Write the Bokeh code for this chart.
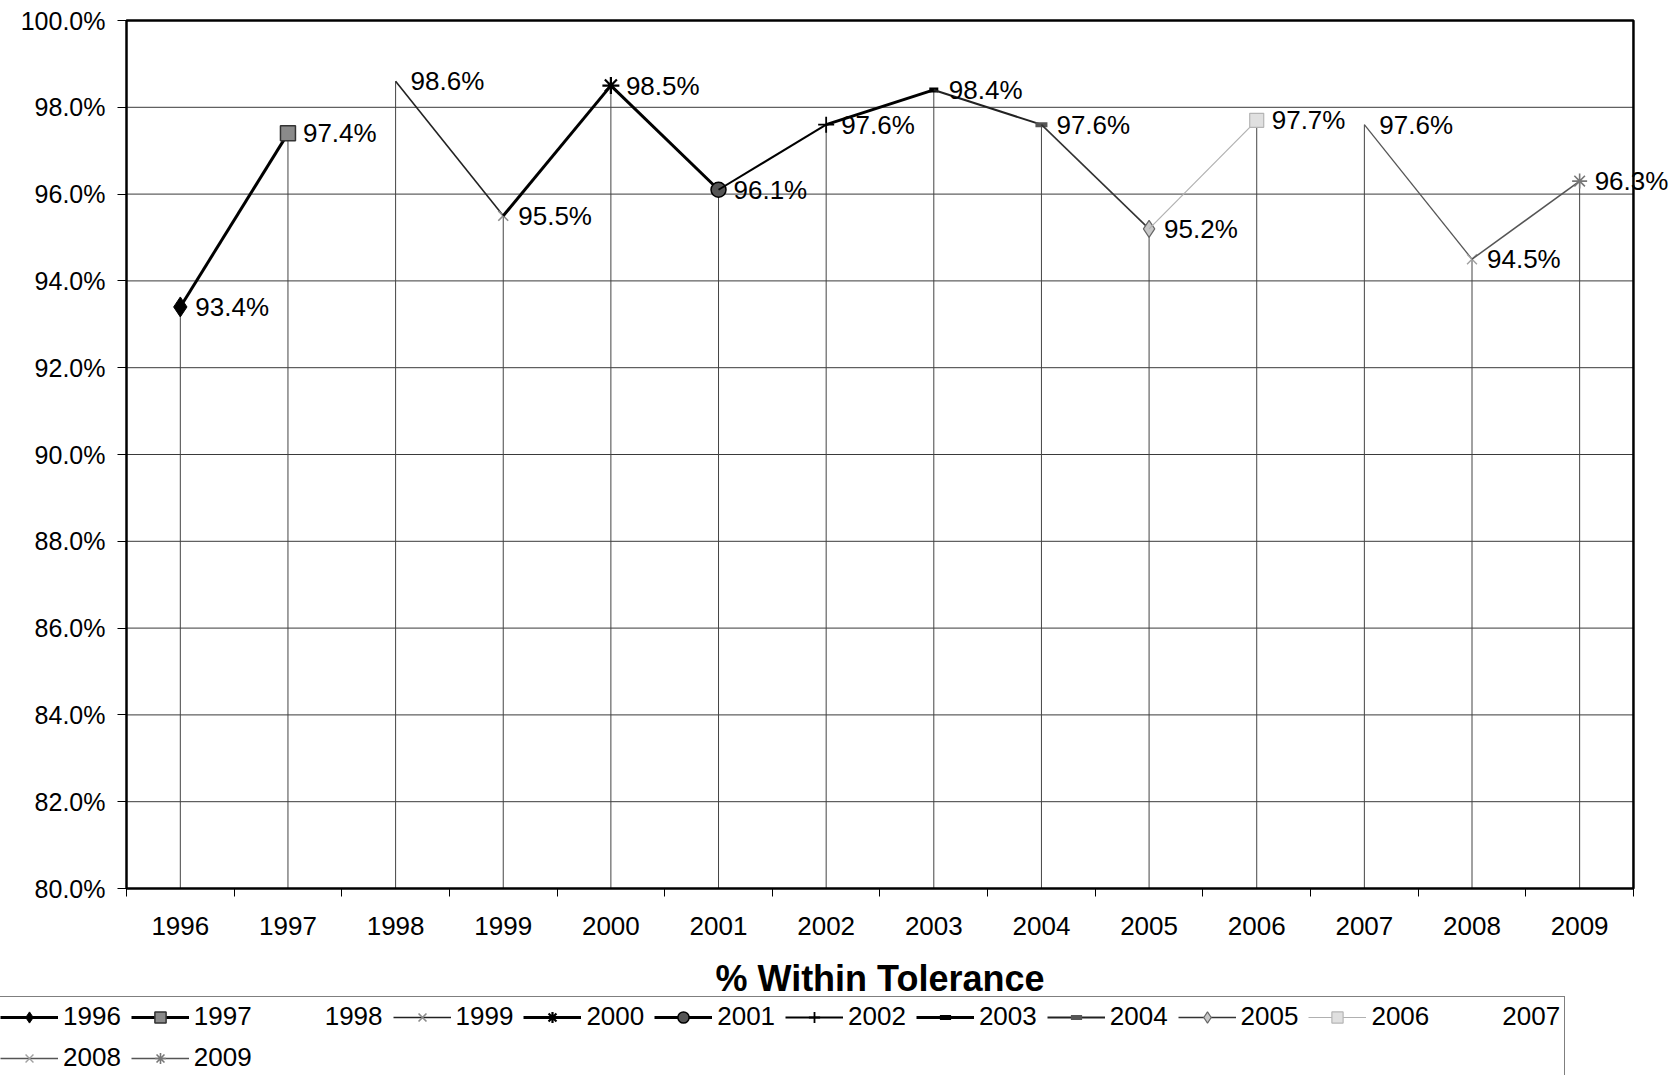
from bokeh.plotting import figure
from bokeh.models import (ColumnDataSource, FixedTicker, PrintfTickFormatter, Range1d,
                          Legend, LegendItem, LabelSet)
from bokeh.core.properties import value
from bokeh.embed import file_html
from bokeh.resources import INLINE

# ---------------- data ----------------
years = ["1996", "1997", "1998", "1999", "2000", "2001", "2002",
         "2003", "2004", "2005", "2006", "2007", "2008", "2009"]
within_tolerance = [93.4, 97.4, 98.6, 95.5, 98.5, 96.1, 97.6,
                    98.4, 97.6, 95.2, 97.7, 97.6, 94.5, 96.3]
y_ticks = [80, 82, 84, 86, 88, 90, 92, 94, 96, 98, 100]
axis_title = "% Within Tolerance"

# ---------------- styles (per series) ----------------
FONT = "Liberation Sans"
styles = {
    "1996": dict(lw=3.0, lc="black", lalpha=1, m="diamond", ms=20, mf="black", ml="black", mlw=1),
    "1997": dict(lw=3.0, lc="black", lalpha=1, m="square", ms=15, mf="#8a8a8a", ml="#333333", mlw=1.5),
    "1998": dict(lw=1.5, lc="black", lalpha=0, m=None),
    "1999": dict(lw=1.6, lc="#222222", lalpha=1, m="x", ms=14, mf=None, ml="#8c8c8c", mlw=1.6),
    "2000": dict(lw=3.0, lc="black", lalpha=1, m="asterisk", ms=17, mf=None, ml="black", mlw=2.2),
    "2001": dict(lw=3.0, lc="black", lalpha=1, m="circle", ms=15, mf="#555555", ml="black", mlw=1.5),
    "2002": dict(lw=2.0, lc="black", lalpha=1, m="cross", ms=16, mf=None, ml="black", mlw=1.8),
    "2003": dict(lw=3.0, lc="black", lalpha=1, m="dash", ms=9, mf=None, ml="black", mlw=5),
    "2004": dict(lw=2.0, lc="#222222", lalpha=1, m="dash", ms=12, mf=None, ml="#555555", mlw=5),
    "2005": dict(lw=1.6, lc="#333333", lalpha=1, m="diamond", ms=17, mf="#c8c8c8", ml="#666666", mlw=1.2),
    "2006": dict(lw=1.2, lc="#b0b0b0", lalpha=1, m="square", ms=14, mf="#e0e0e0", ml="#b5b5b5", mlw=1.2),
    "2007": dict(lw=1.5, lc="black", lalpha=0, m=None),
    "2008": dict(lw=1.3, lc="#555555", lalpha=1, m="x", ms=14, mf=None, ml="#a0a0a0", mlw=1.4),
    "2009": dict(lw=1.5, lc="#555555", lalpha=1, m="asterisk", ms=15, mf=None, ml="#777777", mlw=1.6),
}

n = len(years)
xs = [i + 0.5 for i in range(n)]
y_min, y_max = y_ticks[0], y_ticks[-1]

# ---------------- layout (pixels) ----------------
W, H = 1672, 1075
PLOT_LEFT, PLOT_TOP, PLOT_BOTTOM = 126, 20, 888
CAT_W = 107.64
PX_PER_UNIT = (PLOT_BOTTOM - PLOT_TOP) / (y_max - y_min)

x_range = Range1d(-PLOT_LEFT / CAT_W, (W - PLOT_LEFT) / CAT_W)
y_range = Range1d(y_min - (H - PLOT_BOTTOM) / PX_PER_UNIT, y_max + PLOT_TOP / PX_PER_UNIT)

p = figure(width=W, height=H, output_backend="svg", toolbar_location=None,
           x_range=x_range, y_range=y_range,
           min_border_left=0, min_border_right=0, min_border_top=0, min_border_bottom=0)
p.background_fill_color = "white"
p.border_fill_color = "white"
p.outline_line_color = None
p.xgrid.visible = False
p.ygrid.visible = False

# horizontal gridlines within the plot area
p.segment(x0=[0] * len(y_ticks), x1=[n] * len(y_ticks), y0=y_ticks, y1=y_ticks,
          line_color="#3a3a3a", line_width=1)
# drop lines from each point to the axis
p.segment(x0=xs, y0=[y_min] * n, x1=xs, y1=within_tolerance,
          line_color="#444444", line_width=1)
# plot-area border
p.quad(left=[0], right=[n], bottom=[y_min], top=[y_max], fill_alpha=0,
       line_color="black", line_width=2.5)

# y axis drawn at the plot-area's left edge
p.yaxis.fixed_location = 0
p.yaxis.ticker = FixedTicker(ticks=y_ticks)
p.yaxis.formatter = PrintfTickFormatter(format="%.1f%%")
p.yaxis.major_label_text_font = FONT
p.yaxis.major_label_text_font_size = "25px"
p.yaxis.major_label_text_color = "black"
p.yaxis.major_tick_out = 9
p.yaxis.major_tick_in = 0
p.yaxis.minor_tick_line_color = None
p.yaxis.major_label_standoff = 12
p.yaxis.axis_line_color = None

# x axis drawn at the plot-area's bottom edge: labels at category centres,
# tick marks at category boundaries
p.xaxis.fixed_location = y_min
p.xaxis.ticker = FixedTicker(ticks=xs, minor_ticks=list(range(n + 1)))
p.xaxis.major_label_overrides = {x: y for x, y in zip(xs, years)}
p.xaxis.major_tick_out = 0
p.xaxis.major_tick_in = 0
p.xaxis.major_tick_line_color = None
p.xaxis.minor_tick_out = 8
p.xaxis.minor_tick_in = 0
p.xaxis.minor_tick_line_color = "black"
p.xaxis.minor_tick_line_width = 1
p.xaxis.major_label_text_font = FONT
p.xaxis.major_label_text_font_size = "26px"
p.xaxis.major_label_text_color = "black"
p.xaxis.major_label_standoff = 20
p.xaxis.axis_line_color = None

# axis title, centred under the categories
p.text(x=[n / 2], y=[y_min], text=[axis_title], y_offset=90,
       text_align="center", text_baseline="alphabetic", text_font=value(FONT),
       text_font_size="36px", text_font_style="bold", text_color="black")

# series: each year's line joins the previous year's point to its own
items = []
for i, yr in enumerate(years):
    st = styles[yr]
    rends = []
    j0 = max(0, i - 1)
    src = ColumnDataSource(dict(x=xs[j0:i + 1], y=within_tolerance[j0:i + 1]))
    lr = p.line("x", "y", source=src, line_color=st["lc"], line_width=st["lw"],
                line_alpha=st["lalpha"])
    rends.append(lr)
    if st["m"] is not None:
        msrc = ColumnDataSource(dict(x=[xs[i]], y=[within_tolerance[i]]))
        mr = p.scatter("x", "y", source=msrc, marker=st["m"], size=st["ms"],
                       fill_color=st["mf"], line_color=st["ml"], line_width=st["mlw"])
        rends.append(mr)
    items.append(LegendItem(label=yr, renderers=rends))

# data labels
lab_src = ColumnDataSource(dict(x=xs, y=within_tolerance,
                                text=[f"{v:.1f}%" for v in within_tolerance]))
labels = LabelSet(x="x", y="y", text="text", source=lab_src, x_offset=15, y_offset=0,
                  text_baseline="middle", text_align="left", text_font=value(FONT),
                  text_font_size="26px", text_color="black")
p.add_layout(labels)

legend = Legend(items=items, orientation="horizontal", ncols=12, location=(-5, -3))
legend.label_text_font = FONT
legend.label_text_font_size = "26px"
legend.label_text_color = "black"
legend.glyph_width = 58
legend.glyph_height = 28
legend.label_height = 28
legend.label_standoff = 5
legend.spacing = 10
legend.padding = 4
legend.margin = 0
legend.border_line_color = "black"
legend.border_line_width = 1.5
legend.background_fill_alpha = 0
p.add_layout(legend, "center")

open("out.html", "w").write(file_html(p, INLINE))
